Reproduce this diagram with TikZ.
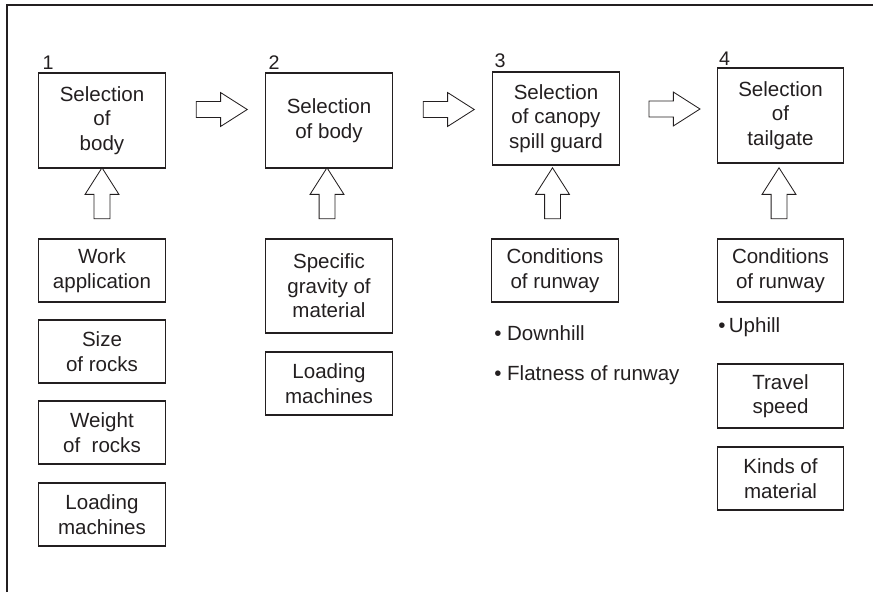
\documentclass[tikz,border=0pt]{standalone}
\usepackage{fontspec}
\setmainfont{Liberation Sans}
\usetikzlibrary{shapes.arrows,calc}
\definecolor{ink}{RGB}{35,31,32}
\tikzset{
	box/.style={draw=ink, line width=0.8pt, text=ink, align=center, minimum width=3.16cm, inner sep=0pt,
		font=\fontsize{14.6}{17.4}\selectfont},
	bigarrow/.style={single arrow, draw=ink, line width=0.6pt, inner sep=0.1875cm, minimum width=0.825cm,
		single arrow head extend=0.225cm, single arrow tip angle=65, minimum height=1.275cm},
	num/.style={anchor=south west, inner sep=0pt, text=ink, font=\fontsize{14}{16}\selectfont},
	item/.style={anchor=west, inner sep=0pt, text=ink, font=\fontsize{14.6}{17.4}\selectfont}
}
\begin{document}
\begin{tikzpicture}[x=0.025cm, y=-0.025cm]
	\useasboundingbox (0,0) rectangle (873,592);
	\draw[ink, line width=0.8pt] (7,592) -- (7,5) -- (873,5);
	% main steps
	\node[box, minimum height=2.375cm] (b1) at (102,120.5) {Selection\\of\\body};
	\node[box, minimum height=2.375cm] (b2) at (329,120.5) {Selection\\of body};
	\node[box, minimum height=2.325cm] (b3) at (556,118.5) {Selection\\of canopy\\spill guard};
	\node[box, minimum height=2.375cm] (b4) at (780.5,115.5) {Selection\\of\\tailgate};
	\node[num] (n1) at ($(b1.north west)+(4,-3)$) {1};
	\node[num] (n2) at ($(b2.north west)+(3,-3)$) {2};
	\node[num] (n3) at ($(b3.north west)+(2,-3)$) {3};
	\node[num] (n4) at ($(b4.north west)+(2,-2)$) {4};
	\node[bigarrow] (a12) at ($(b1.east)!.5!(b2.west)+(0,-11)$) {};
	\node[bigarrow] (a23) at ($(b2.east)!.5!(b3.west)+(0,-10)$) {};
	\node[bigarrow] (a34) at ($(b3.east)!.5!(b4.west)+(0,-8)$) {};
	% factors
	\node[box, minimum height=1.575cm] (work) at (102,270.5) {Work\\application};
	\node[box, minimum height=1.575cm] (size) at (102,351.5) {Size\\of rocks};
	\node[box, minimum height=1.575cm] (weight) at (102,432.5) {Weight\\of\ \ rocks};
	\node[box, minimum height=1.575cm] (load1) at (102,514.5) {Loading\\machines};
	\node[box, minimum height=2.35cm] (grav) at (329,286) {Specific\\gravity of\\material};
	\node[box, minimum height=1.575cm] (load2) at (329,383.5) {Loading\\machines};
	\node[box, minimum height=1.575cm] (cond3) at (555,270.5) {Conditions\\of runway};
	\node[item] (down) at (494,333) {• Downhill};
	\node[item] (flat) at (494,375) {• Flatness of runway};
	\node[box, minimum height=1.575cm] (cond4) at (780.5,270.5) {Conditions\\of runway};
	\node[item] (up) at (718,327) {•\,Uphill};
	\node[box, minimum height=1.6cm] (travel) at (780.5,396) {Travel\\speed};
	\node[box, minimum height=1.575cm] (kinds) at (780.5,478.5) {Kinds of\\material};
	\node[bigarrow, shape border rotate=90] (u1) at ($(b1.south)!.5!(work.north)+(0,-4)$) {};
	\node[bigarrow, shape border rotate=90] (u2) at ($(b2.south)!.5!(grav.north)+(-2,-4)$) {};
	\node[bigarrow, shape border rotate=90] (u3) at ($(b3.south)!.5!(cond3.north)+(-3,-2.5)$) {};
	\node[bigarrow, shape border rotate=90] (u4) at ($(b4.south)!.5!(cond4.north)+(-1.5,-1.5)$) {};
\end{tikzpicture}
\end{document}
